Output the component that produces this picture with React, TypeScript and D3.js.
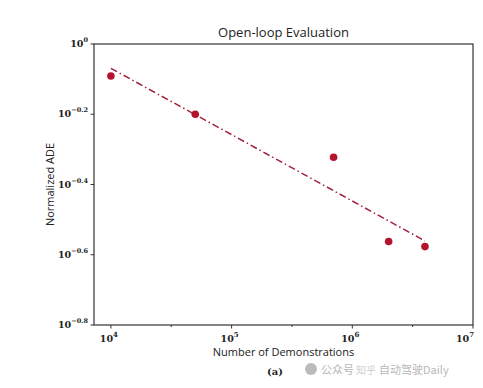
import * as d3 from "d3";
import { useEffect, useRef } from "react";

// data
const demonstrations = [1e4, 5e4, 7e5, 2e6, 4e6];
const normalizedAde = [0.811, 0.631, 0.476, 0.274, 0.265];
const xTickValues = [1e4, 1e5, 1e6, 1e7];
const xTickExps = ["4", "5", "6", "7"];
const xMinorTicks = [10 ** 4.5, 10 ** 5.5, 10 ** 6.5];
const yTickExps = [0, -0.2, -0.4, -0.6, -0.8];

const App = () => {
  const svgRef = useRef(null);
  const width = 483;
  const height = 388;
  const marginLeft = 94;
  const marginRight = 10;
  const marginTop = 44;
  const marginBottom = 63;

  const drawChart = () => {
    d3.select(svgRef.current).selectAll("*").remove();

    const svg = d3
      .select(svgRef.current)
      .attr("width", width)
      .attr("height", height)
      .style("background", "#fff");

    const xScale = d3
      .scaleLog()
      .domain([10 ** 3.86, 1e7])
      .range([marginLeft, width - marginRight]);

    const yScale = d3
      .scaleLog()
      .domain([10 ** -0.8, 1])
      .range([height - marginBottom, marginTop]);

    // frame
    svg
      .append("rect")
      .attr("x", marginLeft)
      .attr("y", marginTop)
      .attr("width", width - marginLeft - marginRight)
      .attr("height", height - marginTop - marginBottom)
      .attr("fill", "none")
      .attr("stroke", "#333")
      .attr("stroke-width", 1.2);

    const tickFont = "'DejaVu Serif', serif";

    // x ticks
    const bottom = height - marginBottom;
    xTickValues.forEach((v, i) => {
      svg
        .append("line")
        .attr("x1", xScale(v))
        .attr("x2", xScale(v))
        .attr("y1", bottom)
        .attr("y2", bottom + 3.5)
        .attr("stroke", "#333");
      // last label sits a bit inside the frame in the original
      const t = svg
        .append("text")
        .attr("x", xScale(v) - (i === xTickValues.length - 1 ? 8 : 2))
        .attr("y", bottom + 17)
        .attr("text-anchor", "middle")
        .attr("font-family", tickFont)
        .attr("font-weight", "bold")
        .attr("font-size", 9.5)
        .attr("fill", "#222");
      t.append("tspan").text("10");
      t.append("tspan")
        .attr("dy", -5)
        .attr("font-size", 7)
        .text(xTickExps[i]);
    });
    xMinorTicks.forEach((v) => {
      svg
        .append("line")
        .attr("x1", xScale(v))
        .attr("x2", xScale(v))
        .attr("y1", bottom)
        .attr("y2", bottom + 2)
        .attr("stroke", "#333");
    });

    // y ticks
    yTickExps.forEach((e) => {
      const y = yScale(10 ** e);
      svg
        .append("line")
        .attr("x1", marginLeft - 3.5)
        .attr("x2", marginLeft)
        .attr("y1", y)
        .attr("y2", y)
        .attr("stroke", "#333");
      const t = svg
        .append("text")
        .attr("x", marginLeft - 6)
        .attr("y", y + 3)
        .attr("text-anchor", "end")
        .attr("font-family", tickFont)
        .attr("font-weight", "bold")
        .attr("font-size", 9.5)
        .attr("fill", "#222");
      t.append("tspan").text("10");
      t.append("tspan")
        .attr("dy", -5)
        .attr("font-size", 6.5)
        .text(e === 0 ? "0" : `\u2212${Math.abs(e).toFixed(1)}`);
    });

    // least squares fit in log-log space
    const lx = demonstrations.map((d) => Math.log10(d));
    const ly = normalizedAde.map((d) => Math.log10(d));
    const mx = d3.mean(lx);
    const my = d3.mean(ly);
    const slope =
      d3.sum(lx, (x, i) => (x - mx) * (ly[i] - my)) /
      d3.sum(lx, (x) => (x - mx) ** 2);
    const fit = d3.extent(lx).map((x) => [10 ** x, 10 ** (my + slope * (x - mx))]);

    svg
      .append("path")
      .attr(
        "d",
        d3
          .line()
          .x((d) => xScale(d[0]))
          .y((d) => yScale(d[1]))(fit)
      )
      .attr("fill", "none")
      .attr("stroke", "#a3203a")
      .attr("stroke-width", 1.5)
      .attr("stroke-dasharray", "7,3,1.5,3");

    svg
      .selectAll(".dot")
      .data(demonstrations)
      .enter()
      .append("circle")
      .attr("class", "dot")
      .attr("cx", (d) => xScale(d))
      .attr("cy", (d, i) => yScale(normalizedAde[i]))
      .attr("r", 3.8)
      .attr("fill", "#b5122e");

    // title and labels
    const sans = "'Open Sans', 'DejaVu Sans', sans-serif";
    svg
      .append("text")
      .attr("x", (marginLeft + width - marginRight) / 2)
      .attr("y", 37)
      .attr("text-anchor", "middle")
      .attr("font-family", sans)
      .attr("font-size", 13)
      .attr("fill", "#222")
      .text("Open-loop Evaluation");

    svg
      .append("text")
      .attr("x", (marginLeft + width - marginRight) / 2)
      .attr("y", 356)
      .attr("text-anchor", "middle")
      .attr("font-family", sans)
      .attr("font-size", 11)
      .attr("fill", "#222")
      .text("Number of Demonstrations");

    svg
      .append("text")
      .attr("transform", `translate(54, ${(marginTop + bottom) / 2}) rotate(-90)`)
      .attr("text-anchor", "middle")
      .attr("font-family", sans)
      .attr("font-size", 11)
      .attr("fill", "#222")
      .text("Normalized ADE");

    svg
      .append("text")
      .attr("x", 275)
      .attr("y", 375)
      .attr("text-anchor", "middle")
      .attr("font-family", tickFont)
      .attr("font-weight", "bold")
      .attr("font-size", 10)
      .attr("fill", "#222")
      .text("(a)");

    // watermark
    const cjk = "'Noto Sans CJK SC', sans-serif";
    svg
      .append("circle")
      .attr("cx", 311)
      .attr("cy", 369)
      .attr("r", 6)
      .attr("fill", "#bbb");
    svg
      .append("text")
      .attr("x", 321)
      .attr("y", 374)
      .attr("font-family", cjk)
      .attr("font-size", 11)
      .attr("fill", "#b8b8b8")
      .text("公众号");
    svg
      .append("text")
      .attr("x", 356)
      .attr("y", 374)
      .attr("font-family", cjk)
      .attr("font-size", 10)
      .attr("fill", "#cfcfcf")
      .text("知乎");
    svg
      .append("text")
      .attr("x", 379)
      .attr("y", 374)
      .attr("font-family", cjk)
      .attr("font-size", 11)
      .attr("fill", "#b8b8b8")
      .text("自动驾驶Daily");
  };

  useEffect(() => {
    drawChart();
  }, []);

  return (
    <div style={{ position: "absolute", left: 0, top: 0 }}>
      <svg ref={svgRef}></svg>
    </div>
  );
};

export default App;
